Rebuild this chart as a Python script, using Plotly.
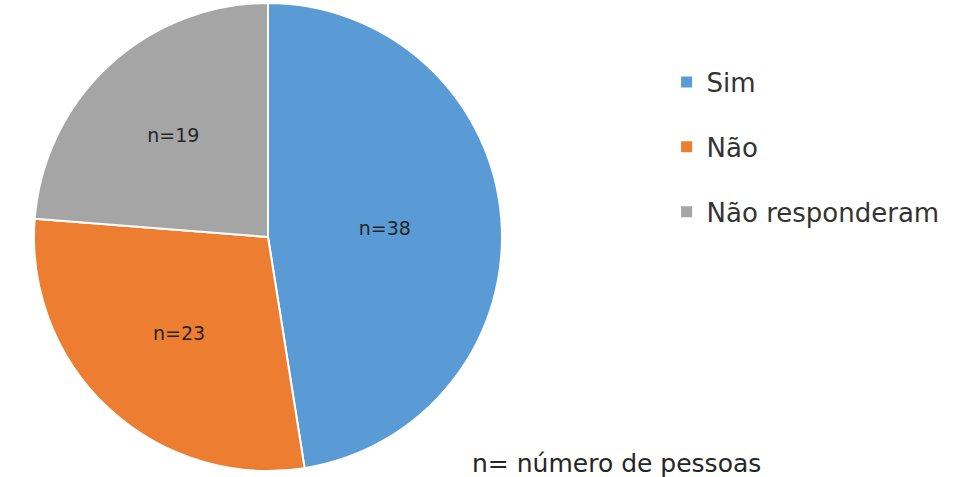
import plotly.graph_objects as go

categories = ["Sim", "Não", "Não responderam"]
values = [38, 23, 19]
colors = ["#5B9BD5", "#ED7D31", "#A5A5A5"]
note = "n= número de pessoas"

W, H = 976, 477
cx, cy, r = 268, 237, 234
FONT = "DejaVu Sans"

fig = go.Figure()
fig.add_trace(go.Pie(
    labels=categories, values=values, sort=False, direction="clockwise", rotation=0,
    marker=dict(colors=colors, line=dict(color="white", width=2)),
    texttemplate="n=%{value}", textposition="inside", insidetextorientation="horizontal",
    textfont=dict(family=FONT, size=19, color="#262626"),
    domain=dict(x=[(cx - r) / W, (cx + r) / W], y=[(H - cy - r) / H, (H - cy + r) / H]),
    showlegend=False, hoverinfo="label+value",
))
for i, (c, col) in enumerate(zip(categories, colors)):
    fig.add_trace(go.Scatter(
        x=[None], y=[None], mode="markers", name=c, legendgroup=f"g{i}",
        marker=dict(symbol="square", size=11, color=col),
    ))

fig.update_layout(
    width=W, height=H, margin=dict(l=0, r=0, t=0, b=0),
    paper_bgcolor="white", plot_bgcolor="white",
    xaxis=dict(visible=False), yaxis=dict(visible=False),
    legend=dict(x=0.683, y=0.877, xanchor="left", yanchor="top",
                font=dict(family=FONT, size=26, color="#333333"),
                tracegroupgap=28, itemwidth=30),
    annotations=[dict(text=note, x=470 / W, y=(H - 463) / H, xref="paper", yref="paper",
                      xanchor="left", yanchor="middle", showarrow=False,
                      font=dict(family=FONT, size=25, color="#262626"))],
)
fig.write_html("out.html")
